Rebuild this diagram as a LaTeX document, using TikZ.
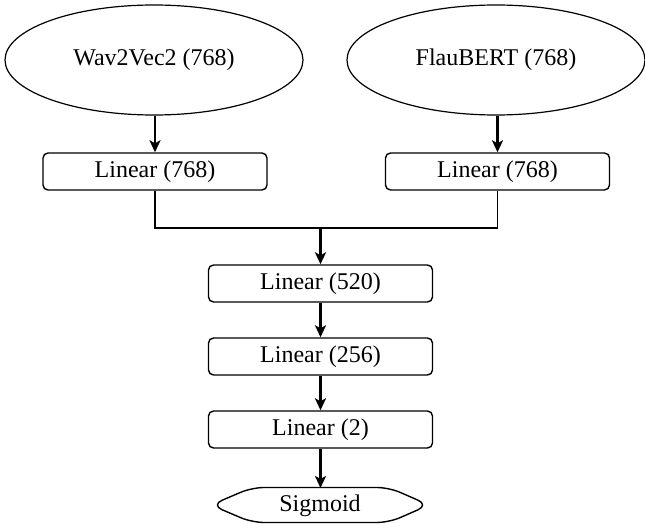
\documentclass[tikz,border=0pt]{standalone}
\usepackage{fontspec}
\setmainfont{Liberation Serif}
\usetikzlibrary{arrows.meta,shapes.geometric}
\begin{document}
\begin{tikzpicture}[x=0.5pt,y=-0.5pt,
  enc/.style={draw,ellipse,line width=0.6pt,minimum width=149pt,minimum height=55pt,inner sep=0pt,font=\fontsize{12}{14}\selectfont},
  lin/.style={draw,rounded corners=2.5pt,line width=0.7pt,minimum width=112pt,minimum height=18.5pt,inner sep=0pt,font=\fontsize{12}{14}\selectfont},
  arr/.style={line width=1.1pt,-{Stealth[length=6pt,width=5.5pt,inset=1.5pt]}},
  wire/.style={line width=0.8pt}]
\useasboundingbox (0,0) rectangle (645,524);
\node[enc] (wav) at (154,60) {Wav2Vec2 (768)};
\node[enc] (flau) at (496,60) {FlauBERT (768)};
\node[lin] (l1) at (155,171.5) {Linear (768)};
\node[lin] (l2) at (497.5,171.5) {Linear (768)};
\node[lin] (l520) at (320.5,283.5) {Linear (520)};
\node[lin] (l256) at (320.5,356.5) {Linear (256)};
\node[lin] (l2out) at (320.5,429.5) {Linear (2)};
\node[font=\fontsize{12}{14}\selectfont,inner sep=0pt] (sig) at (320,506) {Sigmoid};
\draw[line width=0.7pt,rounded corners=6pt] (211,505) -- (252,487.5) -- (389,487.5) -- (429,505) -- (389,522.5) -- (252,522.5) -- cycle;
\coordinate (sigtop) at (320.5,488);
\coordinate (join) at (320.5,228);
\draw[arr] (wav.south -| l1) -- (l1.north);
\draw[arr] (flau.south -| l2) -- (l2.north);
\draw[wire] (l1.south) |- (join);
\draw[wire] (l2.south) |- (join);
\draw[arr] (join) -- (l520.north);
\draw[arr] (l520.south) -- (l256.north);
\draw[arr] (l256.south) -- (l2out.north);
\draw[arr] (l2out.south) -- (sigtop);
\end{tikzpicture}
\end{document}
